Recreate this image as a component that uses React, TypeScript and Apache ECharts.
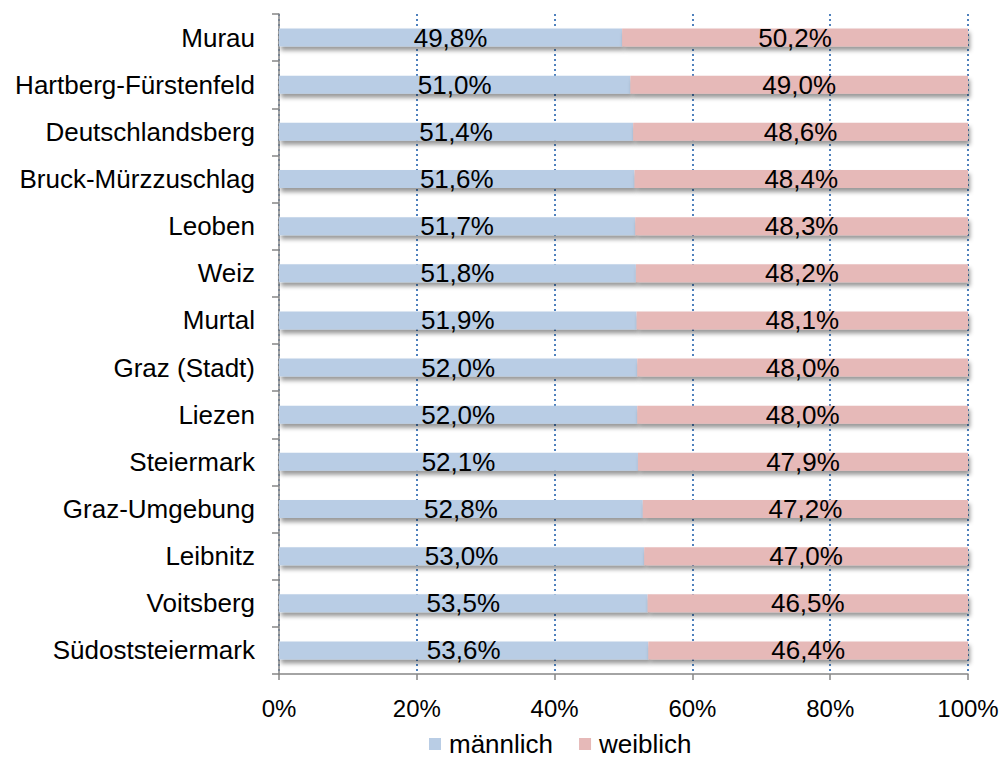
import React, { useEffect, useRef } from "react";
import * as echarts from "echarts";

const categories = [
  "Murau",
  "Hartberg-Fürstenfeld",
  "Deutschlandsberg",
  "Bruck-Mürzzuschlag",
  "Leoben",
  "Weiz",
  "Murtal",
  "Graz (Stadt)",
  "Liezen",
  "Steiermark",
  "Graz-Umgebung",
  "Leibnitz",
  "Voitsberg",
  "Südoststeiermark",
];
const maennlich = [49.8, 51.0, 51.4, 51.6, 51.7, 51.8, 51.9, 52.0, 52.0, 52.1, 52.8, 53.0, 53.5, 53.6];
const weiblich = [50.2, 49.0, 48.6, 48.4, 48.3, 48.2, 48.1, 48.0, 48.0, 47.9, 47.2, 47.0, 46.5, 46.4];
const xTicks = [0, 20, 40, 60, 80, 100];

const FONT = "'Liberation Sans', Arial, sans-serif";

export default function App() {
  const ref = useRef<HTMLDivElement>(null);
  useEffect(() => {
    if (!ref.current) return;
    const chart = echarts.init(ref.current, null, { renderer: "svg" });
    const fmt = (p: any) => p.value.toFixed(1).replace(".", ",") + "%";
    const barStyle = (color: string) => ({
      color,
      shadowColor: "rgba(0,0,0,0.4)",
      shadowBlur: 4,
      shadowOffsetX: 2,
      shadowOffsetY: 4,
    });
    const labelStyle = {
      show: true,
      position: "inside",
      formatter: fmt,
      fontSize: 26,
      color: "#000",
      fontFamily: FONT,
    };
    chart.setOption({
      animation: false,
      textStyle: { fontFamily: FONT },
      grid: { left: 279, right: 36, top: 14, bottom: 86, containLabel: false },
      legend: {
        left: 429,
        top: 731,
        padding: [0, 0, 0, 0],
        itemWidth: 12,
        itemHeight: 12,
        itemGap: 26,
        icon: "rect",
        textStyle: { fontSize: 26, lineHeight: 26, color: "#000", fontFamily: FONT, padding: [0, 0, 0, 3] },
        data: ["männlich", "weiblich"],
      },
      xAxis: {
        type: "value",
        min: xTicks[0],
        max: xTicks[xTicks.length - 1],
        interval: 20,
        axisLine: { show: true, lineStyle: { color: "#868686", width: 1.5 } },
        axisTick: { show: true, length: 6, lineStyle: { color: "#868686", width: 1.5 } },
        axisLabel: {
          formatter: (v: number) => v + "%",
          fontSize: 24,
          color: "#000",
          margin: 22,
          fontFamily: FONT,
        },
        splitLine: {
          show: true,
          lineStyle: { color: "#4F81BD", type: [2, 3], width: 2 },
        },
      },
      yAxis: {
        type: "category",
        data: categories,
        inverse: true,
        axisLine: { show: true, lineStyle: { color: "#868686", width: 1.5 } },
        axisTick: { show: true, length: 7, lineStyle: { color: "#868686", width: 1.5 } },
        axisLabel: { fontSize: 26, color: "#000", margin: 24, fontFamily: FONT },
        splitLine: { show: false },
      },
      series: [
        {
          name: "männlich",
          type: "bar",
          stack: "total",
          data: maennlich,
          barWidth: 18,
          itemStyle: barStyle("#B9CDE5"),
          label: labelStyle,
        },
        {
          name: "weiblich",
          type: "bar",
          stack: "total",
          data: weiblich,
          barWidth: 18,
          itemStyle: barStyle("#E6B9B8"),
          label: labelStyle,
        },
      ],
    });
    return () => chart.dispose();
  }, []);
  return (
    <div
      ref={ref}
      style={{ position: "fixed", left: 0, top: 0, width: 1004, height: 760, background: "#fff" }}
    />
  );
}
